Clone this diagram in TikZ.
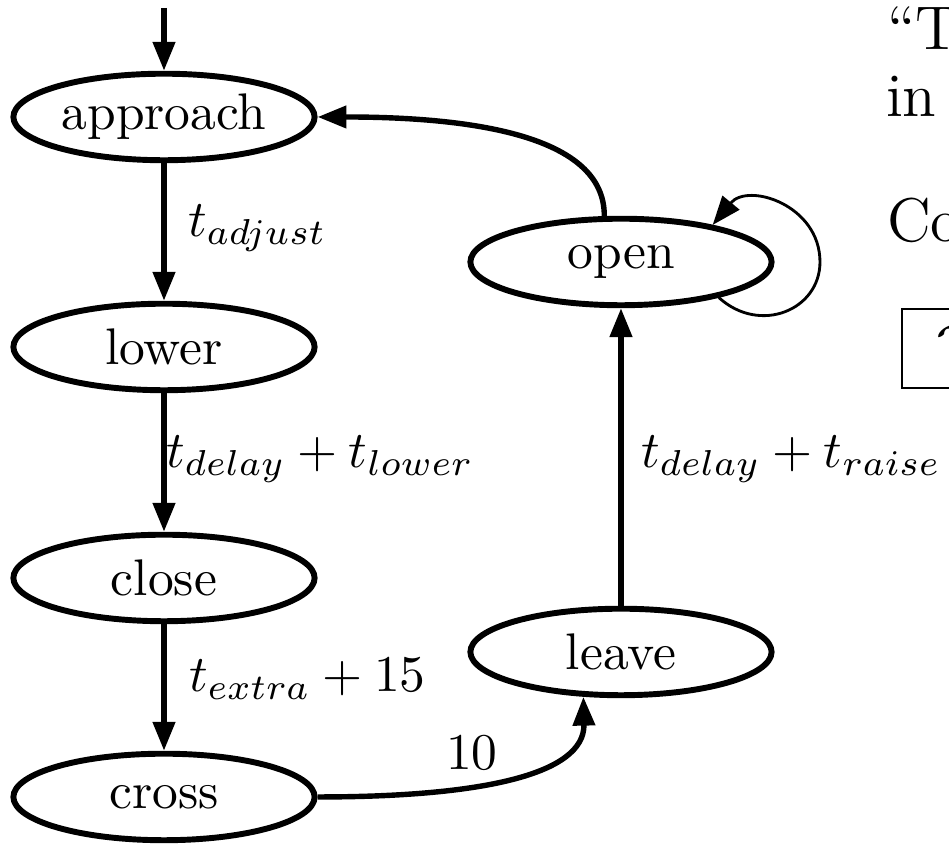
\documentclass[tikz,border=0pt]{standalone}
\usetikzlibrary{arrows.meta,shapes.geometric}
\begin{document}
\begin{tikzpicture}[x=0.1942pt,y=-0.1942pt,
  state/.style={draw, ellipse, line width=1.15pt, minimum width=58.5pt,
    minimum height=16.8pt, inner sep=0pt},
  tip/.style={-{Triangle[length=5.6pt,width=4.2pt]}},
  edge/.style={line width=1.05pt, tip},
  loopedge/.style={line width=0.55pt, tip},
  lbl/.style={anchor=base west, inner sep=0pt},
  side/.style={anchor=base west, inner sep=0pt, font=\large}]
\useasboundingbox (0,0) rectangle (949,845);
\clip (0,0) rectangle (949,845);

% states
\node[state] (approach) at (164,117) {approach};
\node[state] (lower)    at (164,347) {lower};
\node[state] (close)    at (164,578) {close};
\node[state] (cross)    at (164,797) {cross};
\node[state] (open)     at (621,262) {open};
\node[state] (leave)    at (621,652) {leave};
\coordinate (init) at (164,8);

% transitions
\draw[edge] (init) -- (approach);
\draw[edge] (approach) -- (lower);
\draw[edge] (lower) -- (close);
\draw[edge] (close) -- (cross);
\draw[edge] (cross.east) .. controls (480,797) and (585,775) .. (leave.230);
\draw[edge] (leave) -- (open);
\draw[edge] (open.110) .. controls (605,135) and (470,117) .. (approach.east);
\draw[loopedge] (open.-20) .. controls (760,335) and (820,310) .. (820,262)
  .. controls (820,205) and (748,182) .. (open.22);

% transition labels
\node[lbl] (l1) at (187,237) {$t_{adjust}$};
\node[lbl] (l2) at (165,468) {$t_{delay}+t_{lower}$};
\node[lbl] (l3) at (188,692) {$t_{extra}+15$};
\node[lbl] (l4) at (445,770) {$10$};
\node[lbl] (l5) at (640,468) {$t_{delay}+t_{raise}$};

% side text
\node[side] (s1) at (886,50) {“T};
\node[side] (s2) at (885,117) {in};
\node[side] (s3) at (886,242) {Co};
\draw[line width=0.55pt] (902,309) rectangle (1000,388);
\node[side] (s4) at (935,368) {$\mathcal{T}$};
\end{tikzpicture}
\end{document}
